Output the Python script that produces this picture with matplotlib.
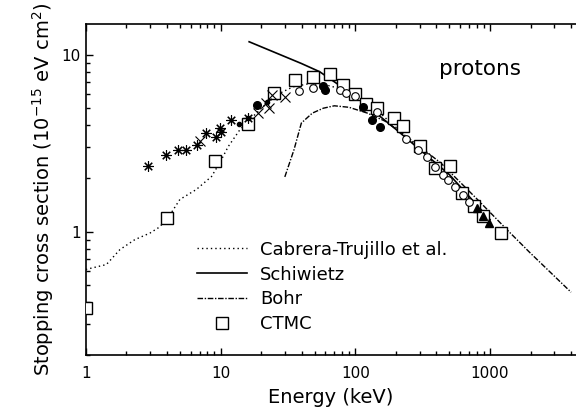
import matplotlib
matplotlib.use("Agg")
import matplotlib.pyplot as plt
from matplotlib.ticker import FixedLocator, LogLocator, NullFormatter, FuncFormatter

# Cabrera-Trujillo et al. (dotted)
cab_e = [1.0, 1.42, 1.79, 2.31, 2.99, 3.45, 3.97, 4.99, 6.6, 8.57, 10.0, 11.4, 13.9, 18.0,
         21.9, 27.5, 34.6, 46, 61, 76.6, 100, 150, 200, 300, 500, 700, 1000]
cab_s = [0.61, 0.65, 0.79, 0.90, 0.98, 1.05, 1.16, 1.52, 1.73, 2.05, 2.50, 3.03, 3.77, 4.6,
         5.32, 6.08, 6.61, 6.9, 6.76, 6.47, 5.9, 4.75, 3.9, 2.95, 2.0, 1.5, 1.15]

# Schiwietz (solid)
sch_e = [16.3, 39.7, 54.4, 100, 200, 500, 1000]
sch_s = [11.9, 8.97, 8.05, 5.85, 3.80, 2.1, 1.17]

# Bohr (dash-dot)
bohr_e = [30, 35.1, 39.8, 48, 57.9, 69.9, 89.9, 123, 168, 230, 431, 807, 1328, 1977, 4000]
bohr_s = [2.04, 2.91, 4.12, 4.69, 5.0, 5.16, 5.06, 4.69, 4.21, 3.54, 2.45, 1.52, 1.03, 0.76, 0.453]

# CTMC (open squares)
ctmc_e = [1.0, 4.03, 9.1, 16.0, 24.9, 35.7, 48.6, 64.4, 80.8, 100, 121, 144, 193, 226,
          302, 393, 501, 617, 759, 887, 1213]
ctmc_s = [0.368, 1.19, 2.51, 4.08, 6.08, 7.2, 7.48, 7.81, 6.77, 6.0, 5.29, 5.0, 4.39, 3.98,
          3.04, 2.30, 2.35, 1.66, 1.40, 1.23, 0.987]

# experiment: open circles
oc_e = [38.5, 48.7, 76.9, 86, 99.3, 144, 239, 293, 338, 389, 450, 492, 549, 634, 701]
oc_s = [6.29, 6.49, 6.34, 6.08, 5.89, 4.78, 3.35, 2.90, 2.64, 2.32, 2.10, 1.95, 1.80, 1.62, 1.48]

# experiment: filled circles
fc_e = [18.7, 57.9, 59.5, 114.5, 132, 152]
fc_s = [5.22, 6.69, 6.35, 5.07, 4.29, 3.91]

# experiment: small dots
sd_e = [13.7, 16.0, 22.0]
sd_s = [4.08, 4.39, 5.45]

# experiment: asterisks
ast_e = [2.90, 3.91, 4.85, 5.53, 6.64, 7.78, 9.23, 9.88, 10.0, 11.9, 16.0]
ast_s = [2.36, 2.70, 2.90, 2.90, 3.10, 3.64, 3.43, 3.85, 3.68, 4.26, 4.39]

# experiment: crosses
x_e = [7.02, 19.0, 21.9, 23.0, 23.9, 30.0]
x_s = [3.24, 4.69, 5.32, 5.00, 5.94, 5.81]

# experiment: filled triangles
tri_e = [795, 891, 986]
tri_s = [1.36, 1.23, 1.12]

fig = plt.figure(figsize=(5.76, 4.07), dpi=100)
ax = fig.add_axes([0.149, 0.128, 0.851, 0.813])

ax.plot(cab_e, cab_s, color='black', lw=1.0, ls=(0, (1, 2.2)), label='Cabrera-Trujillo et al.')
ax.plot(sch_e, sch_s, color='black', lw=1.2, ls='-', label='Schiwietz')
ax.plot(bohr_e, bohr_s, color='black', lw=1.0, ls=(0, (4, 1.2, 1, 1.2)), label='Bohr')
ax.plot(ctmc_e, ctmc_s, ls='none', marker='s', ms=8, mfc='white', mec='black', mew=1.0,
        label='CTMC', zorder=3)
ax.plot(oc_e, oc_s, ls='none', marker='o', ms=5.5, mfc='white', mec='black', mew=0.8, zorder=4)
ax.plot(fc_e, fc_s, ls='none', marker='o', ms=5.5, mfc='black', mec='black', zorder=4)
ax.plot(sd_e, sd_s, ls='none', marker='o', ms=3, mfc='black', mec='black', zorder=4)
ax.plot(ast_e, ast_s, ls='none', marker=(8, 2, 0), ms=7.5, mec='black', mew=0.8, zorder=4)
ax.plot(x_e, x_s, ls='none', marker='x', ms=6.5, mec='black', mew=0.8, zorder=4)
ax.plot(tri_e, tri_s, ls='none', marker='^', ms=6, mfc='black', mec='black', zorder=4)

ax.set_xscale('log')
ax.set_yscale('log')
ax.set_xlim(1, 4350)
ax.set_ylim(0.2, 15)

ax.xaxis.set_major_locator(FixedLocator([1, 10, 100, 1000]))
ax.yaxis.set_major_locator(FixedLocator([1, 10]))
ax.xaxis.set_minor_locator(LogLocator(base=10, subs=range(2, 10)))
ax.yaxis.set_minor_locator(LogLocator(base=10, subs=range(2, 10)))
fmt = FuncFormatter(lambda v, p: f"{v:g}")
ax.xaxis.set_major_formatter(fmt)
ax.yaxis.set_major_formatter(fmt)
ax.xaxis.set_minor_formatter(NullFormatter())
ax.yaxis.set_minor_formatter(NullFormatter())
ax.tick_params(which='both', direction='in', top=True, right=False, labelsize=11, width=1.0)
ax.tick_params(which='major', length=5)
ax.tick_params(which='minor', length=3)
ax.tick_params(axis='x', pad=8)

for s in ['left', 'bottom', 'top']:
    ax.spines[s].set_linewidth(1.2)
ax.spines['right'].set_visible(False)

ax.set_xlabel('Energy (keV)', fontsize=14, labelpad=5)
ax.set_ylabel(r'Stopping cross section (10$^{-15}$ eV cm$^{2}$)', fontsize=14, labelpad=4)

ax.text(0.72, 0.845, 'protons', transform=ax.transAxes, fontsize=15.5)

ax.legend(loc='upper left', bbox_to_anchor=(0.226, 0.345), frameon=False, fontsize=13,
          handlelength=2.8, handletextpad=0.7, labelspacing=0.38, borderaxespad=0, borderpad=0)

fig.savefig('out.png', dpi=100)
